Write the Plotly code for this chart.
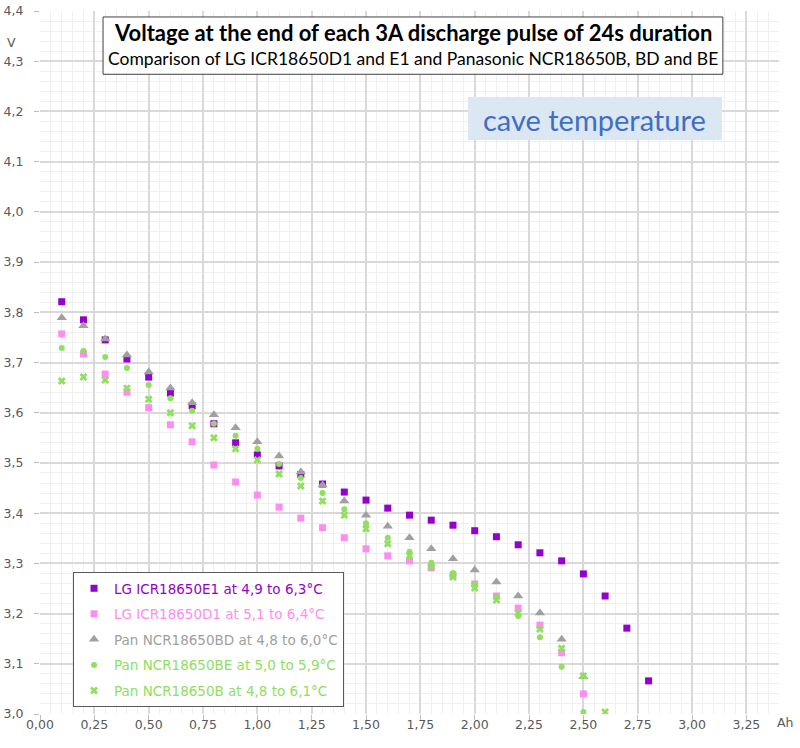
import plotly.graph_objects as go

capacity_ah = [0.1, 0.2, 0.3, 0.4, 0.5, 0.6, 0.7, 0.8, 0.9, 1.0, 1.1, 1.2, 1.3, 1.4,
               1.5, 1.6, 1.7, 1.8, 1.9, 2.0, 2.1, 2.2, 2.3, 2.4, 2.5, 2.6, 2.7, 2.8]

lg_e1 = [3.821, 3.785, 3.745, 3.707, 3.671, 3.639, 3.614, 3.578, 3.540, 3.516,
         3.494, 3.477, 3.458, 3.442, 3.426, 3.410, 3.396, 3.386, 3.376, 3.365,
         3.353, 3.337, 3.321, 3.305, 3.279, 3.235, 3.171, 3.066]
lg_d1 = [3.757, 3.717, 3.677, 3.641, 3.610, 3.576, 3.542, 3.496, 3.462, 3.436,
         3.412, 3.390, 3.371, 3.351, 3.329, 3.315, 3.305, 3.291, 3.277, 3.259,
         3.235, 3.211, 3.177, 3.122, 3.040]
pan_bd = [3.789, 3.773, 3.747, 3.715, 3.681, 3.649, 3.620, 3.596, 3.570, 3.542,
          3.514, 3.482, 3.456, 3.424, 3.396, 3.374, 3.351, 3.329, 3.309, 3.287,
          3.263, 3.235, 3.201, 3.149, 3.074]
pan_be = [3.729, 3.723, 3.711, 3.689, 3.655, 3.629, 3.604, 3.578, 3.554, 3.528,
          3.498, 3.470, 3.440, 3.408, 3.380, 3.351, 3.323, 3.301, 3.281, 3.259,
          3.233, 3.195, 3.153, 3.094, 3.004]
pan_b = [3.663, 3.671, 3.665, 3.649, 3.627, 3.600, 3.574, 3.550, 3.528, 3.506,
         3.478, 3.454, 3.424, 3.396, 3.369, 3.339, 3.315, 3.293, 3.273, 3.251,
         3.227, 3.201, 3.169, 3.131, 3.076, 3.004]

series = [
    ("LG ICR18650E1 at 4,9 to 6,3°C", lg_e1, "#9400CC", "square", 7),
    ("LG ICR18650D1 at 5,1 to 6,4°C", lg_d1, "#FF8CF0", "square", 7),
    ("Pan NCR18650BD at 4,8 to 6,0°C", pan_bd, "#A0A0A0", "triangle-up", 9),
    ("Pan NCR18650BE at 5,0 to 5,9°C", pan_be, "#8EE05E", "circle", 6),
    ("Pan NCR18650B at 4,8 to 6,1°C", pan_b, "#8EE05E", "x", 7),
]

fig = go.Figure()
for i, (name, vals, color, sym, size) in enumerate(series):
    fig.add_trace(go.Scatter(
        x=capacity_ah[:len(vals)], y=vals, mode="markers",
        name=f"<span style='color:{color}'>{name}</span>",
        legendgroup=f"g{i}",
        marker=dict(color=color, symbol=sym, size=size, line=dict(width=0)),
    ))

grid_major = "#D9D9D9"
grid_minor = "#F0F0F0"
tick_font = dict(family="DejaVu Sans, Verdana, sans-serif", size=12.5, color="#595959")

fig.update_layout(
    width=800, height=748,
    margin=dict(l=40, r=21, t=11, b=34),
    paper_bgcolor="white", plot_bgcolor="white",
    separators=", ",
    font=tick_font,
    xaxis=dict(range=[0, 3.4], dtick=0.25, tick0=0, tickformat=".2f",
               showgrid=True, gridcolor=grid_major, gridwidth=1.5,
               minor=dict(dtick=0.05, showgrid=True, gridcolor=grid_minor, gridwidth=1),
               ticks="outside", ticklen=5, tickcolor="#BFBFBF", tickfont=tick_font,
               ticklabelstandoff=-6, automargin=False,
               showline=False, zeroline=False, fixedrange=True),
    yaxis=dict(range=[3.0, 4.4], dtick=0.1, tick0=3.0, tickformat=".1f",
               showgrid=True, gridcolor=grid_major, gridwidth=1.5,
               minor=dict(dtick=0.02, showgrid=True, gridcolor=grid_minor, gridwidth=1),
               ticks="outside", ticklen=5, tickcolor="#BFBFBF", tickfont=tick_font,
               ticklabelstandoff=8, ticklabeloverflow="allow", automargin=False,
               showline=False, zeroline=False, fixedrange=True),
    legend=dict(x=0.0447, y=0.202, xanchor="left", yanchor="top",
                bgcolor="white", bordercolor="#595959", borderwidth=1,
                font=dict(family="DejaVu Sans, Verdana, sans-serif", size=13.5),
                itemwidth=30, tracegroupgap=5, traceorder="grouped"),
    showlegend=True,
)

# title box
fig.add_shape(type="rect", xref="paper", yref="paper",
              x0=0.0853, x1=0.924, y0=0.910, y1=0.9915,
              line=dict(color="#404040", width=1), fillcolor="white", layer="above")
fig.add_annotation(xref="paper", yref="paper", x=0.5047, y=0.969, showarrow=False,
                   xanchor="center", yanchor="middle",
                   text="<b>Voltage at the end of each 3A discharge pulse of 24s duration</b>",
                   font=dict(family="Lato, Open Sans, sans-serif", size=22, color="black"))
fig.add_annotation(xref="paper", yref="paper", x=0.5047, y=0.932, showarrow=False,
                   xanchor="center", yanchor="middle",
                   text="Comparison of LG ICR18650D1 and E1 and Panasonic NCR18650B, BD and BE",
                   font=dict(family="Liberation Sans Narrow, Lato, sans-serif", size=17.5, color="black"))

# cave temperature box
fig.add_shape(type="rect", xref="paper", yref="paper",
              x0=0.579, x1=0.923, y0=0.8165, y1=0.8777,
              line=dict(width=0), fillcolor="#DCE7F4", layer="above")
fig.add_annotation(xref="paper", yref="paper", x=0.751, y=0.8463, showarrow=False,
                   xanchor="center", yanchor="middle",
                   text="cave temperature",
                   font=dict(family="Lato, Open Sans, sans-serif", size=29, color="#3F6FC4"))

# axis unit labels
fig.add_annotation(xref="paper", yref="paper", x=-0.0379, y=0.9545, showarrow=False,
                   xanchor="center", yanchor="middle",
                   text="V", font=tick_font)
fig.add_annotation(xref="paper", yref="paper", x=1.008, y=-0.0128, showarrow=False,
                   xanchor="center", yanchor="middle",
                   text="Ah", font=tick_font)

fig.write_html("out.html",
               config={"displayModeBar": False},
               post_script="document.body.style.margin='0px';document.body.style.overflow='hidden';")
